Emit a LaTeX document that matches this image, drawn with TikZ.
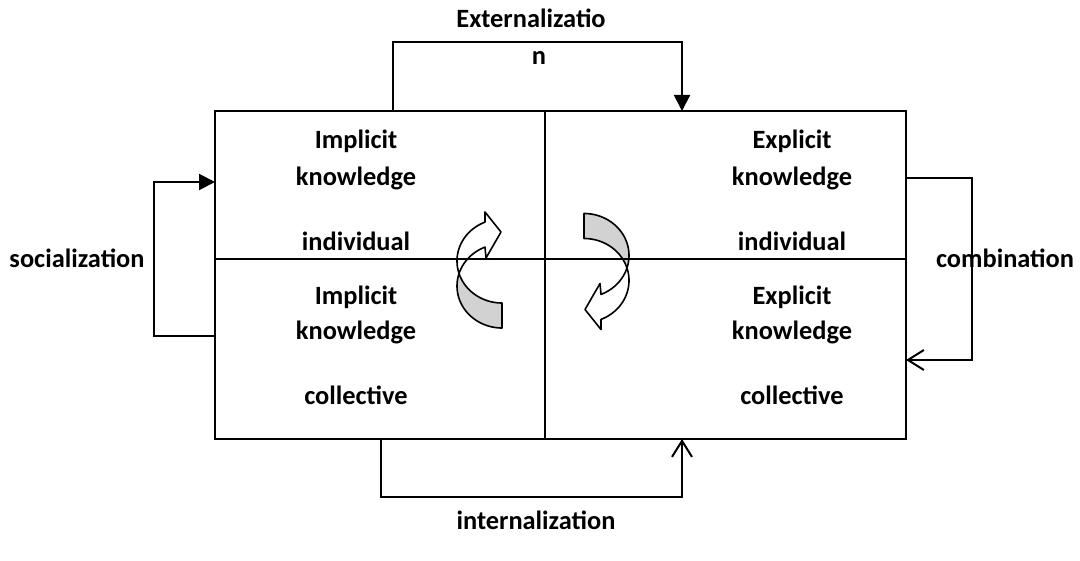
\documentclass[tikz,border=0pt]{standalone}
\usepackage{fontspec}
\setmainfont{Carlito}
\usetikzlibrary{arrows.meta,calc}
\tikzset{
  cuarrow/.pic={
    \draw[fill=gray!35, line width=0.8pt, line join=round]
      plot[domain=162.7:90, samples=40, variable=\t] ({45*cos(\t)},{-12.5+42*sin(\t)})
      -- plot[domain=90:197.3, samples=40, variable=\t] ({45*cos(\t)},{12.5+42*sin(\t)}) -- cycle;
    \draw[line width=0.8pt, line join=round]
      plot[domain=247.8:162.7, samples=50, variable=\t] ({45*cos(\t)},{-12.5+42*sin(\t)})
      -- plot[domain=197.3:247.8, samples=30, variable=\t] ({45*cos(\t)},{12.5+42*sin(\t)})
      -- (-16,-15.5) -- (-1,-41.5) -- (-17,-61.5) -- cycle;
  }
}
\begin{document}
\begin{tikzpicture}[x=0.5pt,y=-0.5pt,
  line width=1pt,
  cell/.style={draw, rectangle, inner sep=0pt, outer sep=0pt, anchor=north west},
  lbl/.style={anchor=base, inner sep=0pt, font=\fontsize{13.2}{16}\selectfont\bfseries},
  fillarrow/.style={-{Triangle[length=8pt,width=8pt]}},
  openarrow/.style={-{Straight Barb[length=8pt,width=10pt]}},
]
\useasboundingbox (0,0) rectangle (1080,561);

% curved arrows
\pic at (502,273.5) {cuarrow};
\pic[rotate=180] at (584,268) {cuarrow};

% cells
\node[cell, minimum width=165pt, minimum height=74pt] (tl) at (215,111) {};
\node[cell, minimum width=180.5pt, minimum height=74pt] (tr) at (545,111) {};
\node[cell, minimum width=165pt, minimum height=90pt] (bl) at (215,259) {};
\node[cell, minimum width=180.5pt, minimum height=90pt] (br) at (545,259) {};

% cell texts
\node[lbl] (tl1) at (356,149) {Implicit};
\node[lbl] (tl2) at (356,185) {knowledge};
\node[lbl] (tl3) at (356,250) {individual};
\node[lbl] (bl1) at (356,304) {Implicit};
\node[lbl] (bl2) at (356,339) {knowledge};
\node[lbl] (bl3) at (356,404) {collective};
\node[lbl] (tr1) at (792,149) {Explicit};
\node[lbl] (tr2) at (792,185) {knowledge};
\node[lbl] (tr3) at (792,250) {individual};
\node[lbl] (br1) at (792,304) {Explicit};
\node[lbl] (br2) at (792,339) {knowledge};
\node[lbl] (br3) at (792,404) {collective};

% connector labels
\node[lbl] (ext1) at (531,28) {Externalizatio};
\node[lbl] (ext2) at (539,65) {n};
\node[lbl] (soc) at (77,267) {socialization};
\node[lbl] (comb) at (1005,267) {combination};
\node[lbl] (int) at (536,529) {internalization};

% bend points
\coordinate (eL) at (393,42);
\coordinate (eR) at (682,42);
\coordinate (sT) at (154,182);
\coordinate (sB) at (154,336);
\coordinate (cT) at (972,178);
\coordinate (cB) at (972,360);
\coordinate (iL) at (381,497);
\coordinate (iR) at (682,497);

% connectors
\draw[fillarrow] (eL |- tl.north) -- (eL) -- (eR) -- (eR |- tr.north);
\draw[fillarrow] (sB -| bl.west) -- (sB) -- (sT) -- (sT -| tl.west);
\draw[openarrow] (cT -| tr.east) -- (cT) -- (cB) -- (cB -| br.east);
\draw[openarrow] (iL |- bl.south) -- (iL) -- (iR) -- (iR |- br.south);
\end{tikzpicture}
\end{document}
